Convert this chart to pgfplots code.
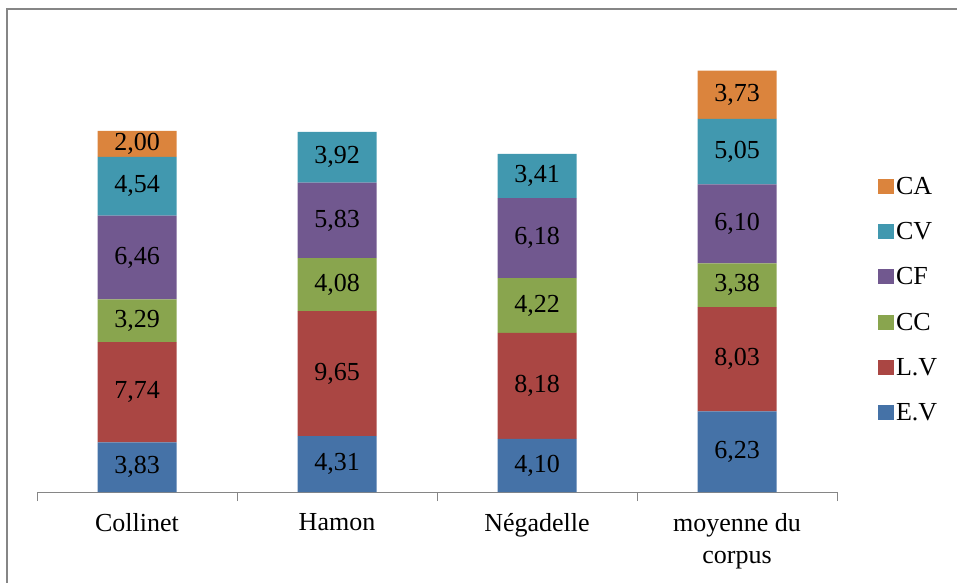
\documentclass[border=0pt]{standalone}
\usepackage{fontspec}
\setmainfont{Liberation Serif}
\usepackage{pgfplots}
\pgfplotsset{compat=1.18}
\definecolor{cEV}{HTML}{4572A7}
\definecolor{cLV}{HTML}{AA4643}
\definecolor{cCC}{HTML}{89A54E}
\definecolor{cCF}{HTML}{71588F}
\definecolor{cCV}{HTML}{4198AF}
\definecolor{cCA}{HTML}{DB843D}
\definecolor{frame}{HTML}{868686}
\begin{document}
\begin{tikzpicture}
\useasboundingbox (0pt,0pt) rectangle (957pt,582pt);
\draw[frame, line width=2pt] (7pt,-5pt) -- (7pt,573pt) -- (965pt,573pt);
\begin{axis}[
  at={(37pt,90pt)}, anchor=south west,
  scale only axis, width=800pt, y=12.96pt,
  ymin=0, ymax=35, xmin=-0.5, xmax=3.5,
  ybar stacked, bar width=0.395,
  axis x line=bottom, axis y line=none,
  x axis line style={-, frame, line width=0.8pt},
  xtick={0,1,2,3},
  xticklabels={Collinet, Hamon, Négadelle, {moyenne du\\corpus}},
  xticklabel style={align=center, font=\fontsize{26}{32}\selectfont, text=black, yshift=-18pt},
  major tick length=0pt,
  minor xtick={-0.5,0.5,1.5,2.5,3.5},
  minor tick length=9pt,
  tick align=outside,
  minor x tick style={frame, line width=0.8pt},
  ytick=\empty,
  clip=false,
  point meta=explicit symbolic,
  nodes near coords={\pgfplotspointmeta},
  nodes near coords align=center,
  every node near coord/.append style={anchor=center, text=black, font=\fontsize{26}{30}\selectfont},
  every axis plot post/.append style={legend image code/.code={\fill[##1] (0pt,-7.5pt) rectangle (16pt,7.5pt);}},
  legend style={at={(1.051,0.6994)}, anchor=north west, draw=none, fill=none, font=\fontsize{26}{30}\selectfont, row sep=22.6pt, inner sep=0pt},
  legend cell align=left,
  reverse legend,
]
\addplot[fill=cEV, draw=none] coordinates {(0,3.83)[3{,}83] (1,4.31)[4{,}31] (2,4.10)[4{,}10] (3,6.23)[6{,}23]};
\addplot[fill=cLV, draw=none] coordinates {(0,7.74)[7{,}74] (1,9.65)[9{,}65] (2,8.18)[8{,}18] (3,8.03)[8{,}03]};
\addplot[fill=cCC, draw=none] coordinates {(0,3.29)[3{,}29] (1,4.08)[4{,}08] (2,4.22)[4{,}22] (3,3.38)[3{,}38]};
\addplot[fill=cCF, draw=none] coordinates {(0,6.46)[6{,}46] (1,5.83)[5{,}83] (2,6.18)[6{,}18] (3,6.10)[6{,}10]};
\addplot[fill=cCV, draw=none] coordinates {(0,4.54)[4{,}54] (1,3.92)[3{,}92] (2,3.41)[3{,}41] (3,5.05)[5{,}05]};
\addplot[fill=cCA, draw=none] coordinates {(0,2.00)[2{,}00] (1,0)[{}] (2,0)[{}] (3,3.73)[3{,}73]};
\legend{E.V, L.V, CC, CF, CV, CA}
\end{axis}
\end{tikzpicture}
\end{document}
